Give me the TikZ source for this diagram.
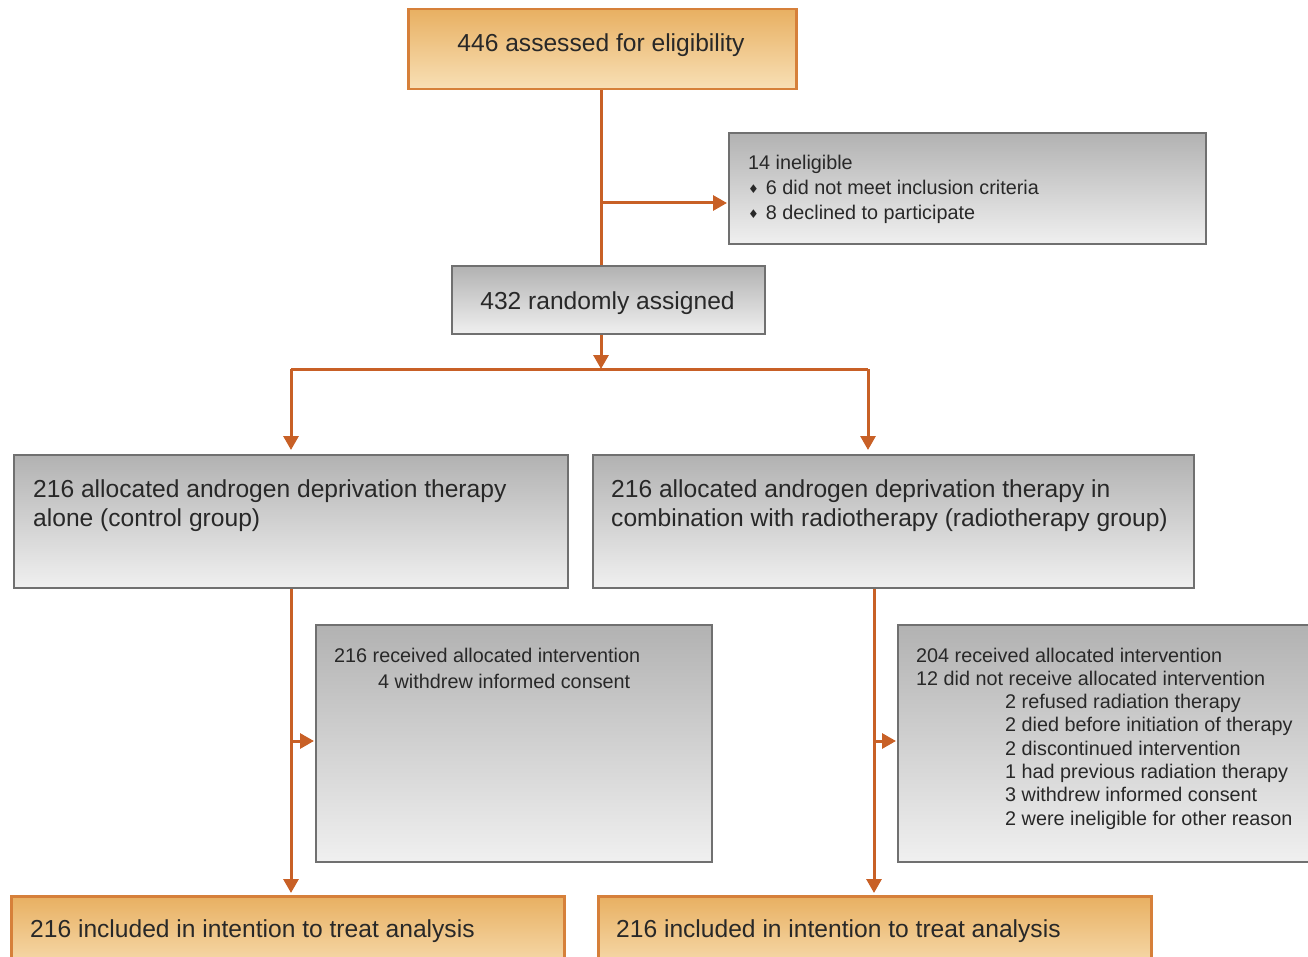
\documentclass[tikz,border=0pt]{standalone}
\usepackage{fontspec}
\setmainfont{Liberation Sans}
\newfontfamily\symfont{DejaVu Sans}
\usetikzlibrary{arrows.meta,calc}

\definecolor{flow}{RGB}{200,96,38}
\definecolor{oborder}{RGB}{214,128,58}
\definecolor{otop}{RGB}{232,176,98}
\definecolor{obot}{RGB}{248,224,182}
\definecolor{gborder}{RGB}{112,112,112}
\definecolor{gtop}{RGB}{178,178,178}
\definecolor{gbot}{RGB}{240,240,240}
\definecolor{ink}{RGB}{40,40,40}

\tikzset{
  obox/.style={rectangle, draw=oborder, line width=2.5pt, top color=otop, bottom color=obot, inner sep=0pt, anchor=north west},
  gbox/.style={rectangle, draw=gborder, line width=2.2pt, top color=gtop, bottom color=gbot, inner sep=0pt, anchor=north west},
  big/.style={inner sep=0pt, text=ink, font=\fontsize{24.6}{30}\selectfont},
  small/.style={inner sep=0pt, text=ink, font=\fontsize{19.8}{25}\selectfont, anchor=base west},
  conn/.style={draw=flow, line width=3pt},
  arr/.style={conn, -{Triangle[length=14pt,width=15pt]}},
}
\newcommand{\dbul}{{\symfont\fontsize{12}{12}\selectfont\raisebox{1.5pt}{♦}}\hspace{7pt}}

\begin{document}
\begin{tikzpicture}[x=1pt,y=-1pt]
\useasboundingbox (0,0) rectangle (1308,957);
\clip (0,0) rectangle (1308,957);

% boxes
\node[obox, minimum width=388pt, minimum height=80pt] (top) at (407,8) {};
\node[gbox, minimum width=477pt, minimum height=111pt] (inel) at (728,132) {};
\node[gbox, minimum width=313pt, minimum height=68pt] (rand) at (451,265) {};
\node[gbox, minimum width=554pt, minimum height=133pt] (ctrl) at (13,454) {};
\node[gbox, minimum width=601pt, minimum height=133pt] (radio) at (592,454) {};
\node[gbox, minimum width=396pt, minimum height=237pt] (recl) at (315,624) {};
\node[gbox, minimum width=430pt, minimum height=237pt] (recr) at (897,624) {};
\node[obox, minimum width=553pt, minimum height=80pt] (itta) at (10,895) {};
\node[obox, minimum width=553pt, minimum height=80pt] (ittb) at (597,895) {};

% texts
\node[big, anchor=base] (ttop) at (601,52) {446 assessed for eligibility};
\node[small] (i1) at (748,170) {14 ineligible};
\node[small] (i2) at (748,195) {\dbul 6 did not meet inclusion criteria};
\node[small] (i3) at (748,220) {\dbul 8 declined to participate};
\node[big, anchor=base] (trand) at (607.5,309) {432 randomly assigned};
\node[big, anchor=base west] (c1) at (33,497) {216 allocated androgen deprivation therapy};
\node[big, anchor=base west] (c2) at (33,526) {alone (control group)};
\node[big, anchor=base west] (d1) at (611,497) {216 allocated androgen deprivation therapy in};
\node[big, anchor=base west] (d2) at (611,526) {combination with radiotherapy (radiotherapy group)};
\node[small] (l1) at (334,662) {216 received allocated intervention};
\node[small] (l2) at (378,688) {4 withdrew informed consent};
\node[small] (r1) at (916,662) {204 received allocated intervention};
\node[small] (r2) at (916,685.3) {12 did not receive allocated intervention};
\node[small] (r3) at (1005,708.6) {2 refused radiation therapy};
\node[small] (r4) at (1005,731.9) {2 died before initiation of therapy};
\node[small] (r5) at (1005,755.2) {2 discontinued intervention};
\node[small] (r6) at (1005,778.5) {1 had previous radiation therapy};
\node[small] (r7) at (1005,801.8) {3 withdrew informed consent};
\node[small] (r8) at (1005,825.1) {2 were ineligible for other reason};
\node[big, anchor=base west] (e1) at (30,937) {216 included in intention to treat analysis};
\node[big, anchor=base west] (e2) at (616,937) {216 included in intention to treat analysis};

% connectors
\coordinate (trunk) at (601,203);
\coordinate (split) at (601,369);
\coordinate (lsplit) at (291,369);
\coordinate (rsplit) at (868,369);
\coordinate (lbr) at (291,741);
\coordinate (rbr) at (874,741);

\draw[conn] (top.south -| trunk) -- (rand.north -| trunk);
\draw[arr, shorten >=1pt] (trunk) -- (trunk -| inel.west);
\draw[arr] (rand.south -| split) -- (split);
\draw[conn] (lsplit) -- (rsplit);
\draw[arr, shorten >=4pt] (lsplit) -- (lsplit |- ctrl.north);
\draw[arr, shorten >=4pt] (rsplit) -- (rsplit |- radio.north);
\draw[arr, shorten >=2pt] (ctrl.south -| lbr) -- (lbr |- itta.north);
\draw[arr, shorten >=1pt] (lbr) -- (lbr -| recl.west);
\draw[arr, shorten >=2pt] (radio.south -| rbr) -- (rbr |- ittb.north);
\draw[arr, shorten >=1pt] (rbr) -- (rbr -| recr.west);
\end{tikzpicture}
\end{document}
